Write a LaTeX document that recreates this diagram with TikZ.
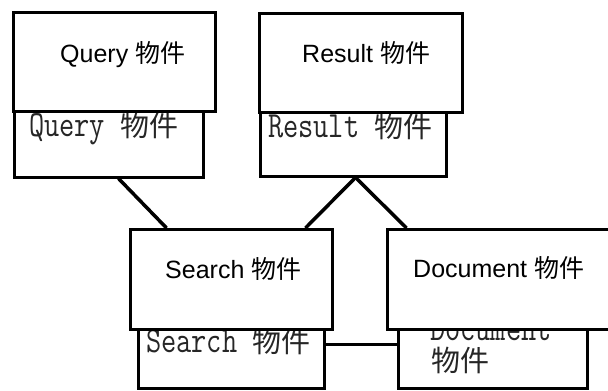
\documentclass[tikz,border=0pt]{standalone}
\usepackage{fontspec}
\usepackage{graphicx}
\newfontfamily\sansf{Liberation Sans}
\newfontfamily\monof{Latin Modern Mono}
\newfontfamily\cjkf{Noto Sans CJK TC}
\newcommand{\tallmono}[1]{\scalebox{1}[1.25]{\monof #1}}
\tikzset{
  backbox/.style={draw=black, line width=3pt, fill=white, rectangle, inner sep=0pt},
  frontbox/.style={draw=black, line width=3pt, fill=white, rectangle, inner sep=0pt},
  fronttext/.style={anchor=base west, inner sep=0pt, text=black, font=\fontsize{25}{30}\selectfont},
  backtext/.style={anchor=base west, inner sep=0pt, text=black!85, font=\fontsize{29.5}{30}\selectfont},
  link/.style={draw=black, line width=3.5pt},
  hlink/.style={draw=black, line width=3pt}
}
\begin{document}
\begin{tikzpicture}[x=1pt, y=-1pt]
\useasboundingbox (0,0) rectangle (608,391);
\fill[white] (0,0) rectangle (608,391);
% back boxes
\node[backbox, minimum width=189pt, minimum height=87pt] (qb) at (108.5,133.5) {};
\node[backbox, minimum width=186pt, minimum height=86pt] (rb) at (353,133) {};
\node[backbox, minimum width=186pt, minimum height=88.5pt] (sb) at (231.5,344) {};
\node[backbox, minimum width=188.5pt, minimum height=88.5pt] (db) at (492.75,344) {};
% back texts
\node[backtext] (qbt) at (29,136) {\tallmono{Query }{\cjkf\fontsize{29}{30}\selectfont 物件}};
\node[backtext] (rbt) at (268,137) {\tallmono{Result }{\cjkf\fontsize{29}{30}\selectfont 物件}};
\node[backtext] (sbt) at (146,352) {\tallmono{Search }{\cjkf\fontsize{29}{30}\selectfont 物件}};
\node[backtext] (dbt1) at (430,340) {\tallmono{Document}};
\node[backtext] (dbt2) at (431,371) {{\cjkf\fontsize{29}{30}\selectfont 物件}};
% front boxes
\node[frontbox, minimum width=201.5pt, minimum height=99pt] (qf) at (114.25,62) {};
\node[frontbox, minimum width=203pt, minimum height=99pt] (rf) at (360.5,62.5) {};
\node[frontbox, minimum width=202pt, minimum height=99.5pt] (sf) at (231,279.25) {};
\node[frontbox, minimum width=225pt, minimum height=99.5pt] (df) at (499.5,279.25) {};
% connectors
\draw[link] ([xshift=106pt]qb.south west) -- ([xshift=38pt]sf.north west);
\draw[link] ([xshift=97pt]rb.south west) -- ([xshift=177pt]sf.north west);
\draw[link] ([xshift=97pt]rb.south west) -- ([xshift=21pt]df.north west);
\draw[hlink] (sb.east) -- (db.west);
% front texts
\node[fronttext] (qft) at (60,62) {{\sansf Query }{\cjkf 物件}};
\node[fronttext] (rft) at (302,62) {{\sansf Result }{\cjkf 物件}};
\node[fronttext] (sft) at (165,278) {{\sansf Search }{\cjkf 物件}};
\node[fronttext] (dft) at (413,277.5) {{\sansf Document }{\cjkf 物件}};
\end{tikzpicture}
\end{document}
